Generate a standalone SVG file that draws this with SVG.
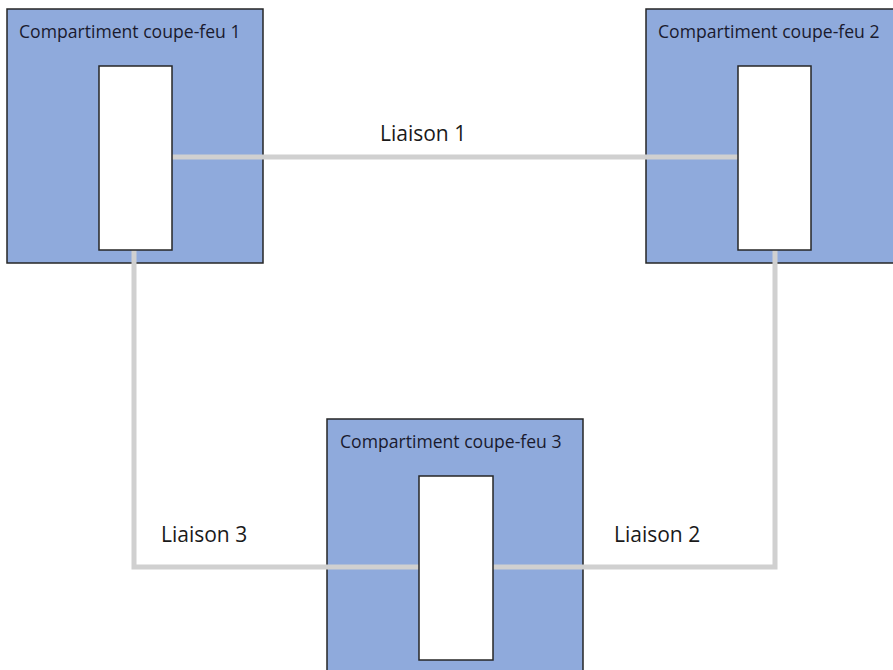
<svg xmlns="http://www.w3.org/2000/svg" width="893" height="670" viewBox="0 0 893 670">
<style>
.box{fill:#8faadc;stroke:#262626;stroke-width:1.5}
.inner{fill:#ffffff;stroke:#262626;stroke-width:1.5}
.t{font-family:"Open Sans","Noto Sans",sans-serif;font-size:17.6px;fill:#1a1a2e}
.l{font-family:"Open Sans","Noto Sans",sans-serif;font-size:21px;fill:#1a1a1a}
.c{fill:none;stroke:#d0d0d0;stroke-width:5}
</style>
<rect width="893" height="670" fill="#ffffff"/>
<g id="cf1">
<rect class="box" x="7" y="9" width="256" height="254"/>
<text class="t" x="19" y="38">Compartiment coupe-feu 1</text>
</g>
<g id="cf2">
<rect class="box" x="646" y="9" width="260" height="254"/>
<text class="t" x="658" y="38">Compartiment coupe-feu 2</text>
</g>
<g id="cf3">
<rect class="box" x="327" y="419" width="256" height="270"/>
<text class="t" x="340" y="448">Compartiment coupe-feu 3</text>
</g>
<g id="connectors">
<path class="c" d="M172 157H738"/>
<path class="c" d="M134 250V567H419"/>
<path class="c" d="M775 250V567H493"/>
</g>
<g id="inner1"><rect class="inner" x="99" y="66" width="73" height="184"/></g>
<g id="inner2"><rect class="inner" x="738" y="66" width="73" height="184"/></g>
<g id="inner3"><rect class="inner" x="419" y="476" width="74" height="184"/></g>
<g id="labels">
<text class="l" x="380" y="141">Liaison 1</text>
<text class="l" x="161" y="542">Liaison 3</text>
<text class="l" x="614" y="542">Liaison 2</text>
</g>
</svg>
